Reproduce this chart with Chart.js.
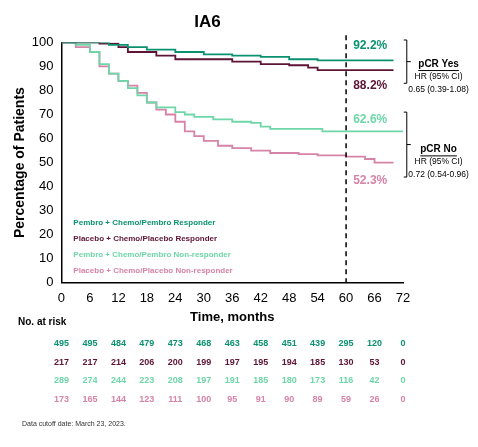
<!DOCTYPE html><html><head><script src="https://cdn.jsdelivr.net/npm/chart.js@4"></script>
<style>body{margin:0;background:#fff}#w{width:478px;height:447px}</style></head><body><div id="w"><canvas id="c"></canvas></div>
<script>
const months=[0,6,12,18,24,30,36,42,48,54,60,66,72];
const pembroR=[[0,100],[6,100],[10,99],[14,98],[18,97],[24,96],[30,95],[36,94.5],[42,94],[48,93],[54,92.5],[70,92.5]];
const placeboR=[[0,100],[8,99.5],[12,98],[14,96],[19,96],[20,94.5],[24,93],[30,93],[36,92],[42,91],[48,90.5],[52,89.5],[54,88.5],[70,88.5]];
const pembroNR=[[0,100],[3,99],[6,96],[8,91],[10,87],[12,84],[14,81],[16,78],[18,75],[20,73],[24,71],[26,70],[28,69],[32,68],[36,67],[40,66.5],[42,65],[44,64],[54,64],[55,63],[72,63]];
const placeboNR=[[0,100],[3,98],[6,96],[8,90],[10,87],[12,84],[14,82],[16,79],[18,75],[20,72],[22,70],[24,67],[26,63],[28,61],[30,59],[33,57],[36,56],[40,55],[44,54],[50,53.5],[54,53],[60,52.5],[64,51.5],[66,50],[70,50]];
const riskPembroR=[495,495,484,479,473,468,463,458,451,439,295,120,0];
const riskPlaceboR=[217,217,214,206,200,199,197,195,194,185,130,53,0];
const riskPembroNR=[289,274,244,223,208,197,191,185,180,173,116,42,0];
const riskPlaceboNR=[173,165,144,123,111,100,95,91,90,89,59,26,0];
const names=['Pembro + Chemo/Pembro Responder','Placebo + Chemo/Placebo Responder','Pembro + Chemo/Pembro Non-responder','Placebo + Chemo/Placebo Non-responder'];
const colors=['#0a9270','#5e1436','#6fd6a8','#d683a8'];
const series=[pembroR,placeboR,pembroNR,placeboNR];
const risks=[riskPembroR,riskPlaceboR,riskPembroNR,riskPlaceboNR];
const F='Liberation Sans, Arial, sans-serif';
const extra={id:'extra',afterDraw(ch){
 const c=ch.ctx,x=ch.scales.x,y=ch.scales.y;c.save();
 c.strokeStyle='#000';c.lineWidth=1.5;c.setLineDash([5,4]);c.beginPath();c.moveTo(x.getPixelForValue(60),y.getPixelForValue(103));c.lineTo(x.getPixelForValue(60),y.bottom);c.stroke();c.setLineDash([]);
 c.font='bold 12px '+F;c.textAlign='left';c.textBaseline='middle';
 [['92.2%',98.5,0],['88.2%',82,1],['62.6%',68,2],['52.3%',42.5,3]].forEach(a=>{c.fillStyle=colors[a[2]];c.fillText(a[0],x.getPixelForValue(61.5),y.getPixelForValue(a[1]));});
 c.strokeStyle='#000';c.lineWidth=1;
 const br=(t,b)=>{const bx=x.getPixelForValue(72.8);c.beginPath();c.moveTo(bx-3,y.getPixelForValue(t));c.lineTo(bx,y.getPixelForValue(t));c.lineTo(bx,y.getPixelForValue(b));c.lineTo(bx-3,y.getPixelForValue(b));c.moveTo(bx,y.getPixelForValue((t+b)/2));c.lineTo(bx+4,y.getPixelForValue((t+b)/2));c.stroke();};
 br(101,83);br(71,44);
 c.textAlign='center';c.fillStyle='#000';
 const hr=(ym,t,v)=>{const cx=x.getPixelForValue(79.5);c.font='bold 10px '+F;c.fillText(t,cx,y.getPixelForValue(ym));const w=c.measureText(t).width;c.fillRect(cx-w/2,y.getPixelForValue(ym)+6,w,1);c.font='8.5px '+F;c.fillText('HR (95% CI)',cx,y.getPixelForValue(ym-5.3));c.fillText(v,cx,y.getPixelForValue(ym-10.5));};
 hr(91,'pCR Yes','0.65 (0.39-1.08)');hr(55.5,'pCR No','0.72 (0.54-0.96)');
 c.textAlign='left';c.font='bold 8px '+F;
 names.forEach((n,i)=>{c.fillStyle=colors[i];c.fillText(n,x.getPixelForValue(2.5),y.getPixelForValue(25-i*6.6));});
 c.font='bold 10px '+F;c.fillStyle='#000';c.fillText('No. at risk',18,322);
 c.textAlign='center';c.font='bold 9px '+F;
 risks.forEach((r,i)=>{c.fillStyle=colors[i];r.forEach((v,j)=>c.fillText(v,x.getPixelForValue(months[j]),344+i*18.5));});
 c.textAlign='left';c.font='7px '+F;c.fillStyle='#333';c.fillText('Data cutoff date: March 23, 2023.',22,424);
 c.restore();}};
new Chart(document.getElementById('c'),{type:'line',
 data:{datasets:series.map((s,i)=>({label:names[i],data:s.map(p=>({x:p[0],y:p[1]})),borderColor:colors[i],borderWidth:1.8,stepped:true,pointRadius:0,fill:false}))},
 options:{responsive:true,maintainAspectRatio:false,animation:false,
  layout:{padding:{left:12,right:75,top:8,bottom:122}},
  plugins:{legend:{display:false},tooltip:{enabled:false},title:{display:true,text:'IA6',font:{family:F,size:17,weight:'bold'},color:'#000',padding:{top:4,bottom:10}}},
  scales:{x:{type:'linear',min:0,max:72,ticks:{stepSize:6,color:'#000',font:{family:F,size:13}},grid:{display:false,tickLength:5,tickColor:'#000'},border:{color:'#000',width:1.5},
   title:{display:true,text:'Time, months',color:'#000',font:{family:F,size:13,weight:'bold'},padding:0}},
   y:{min:0,max:100,ticks:{stepSize:10,color:'#000',font:{family:F,size:13}},grid:{display:false,tickLength:5,tickColor:'#000'},border:{color:'#000',width:1.5},
   title:{display:true,text:'Percentage of Patients',color:'#000',font:{family:F,size:14,weight:'bold'},padding:0}}}},
 plugins:[extra]});
</script></body></html>
